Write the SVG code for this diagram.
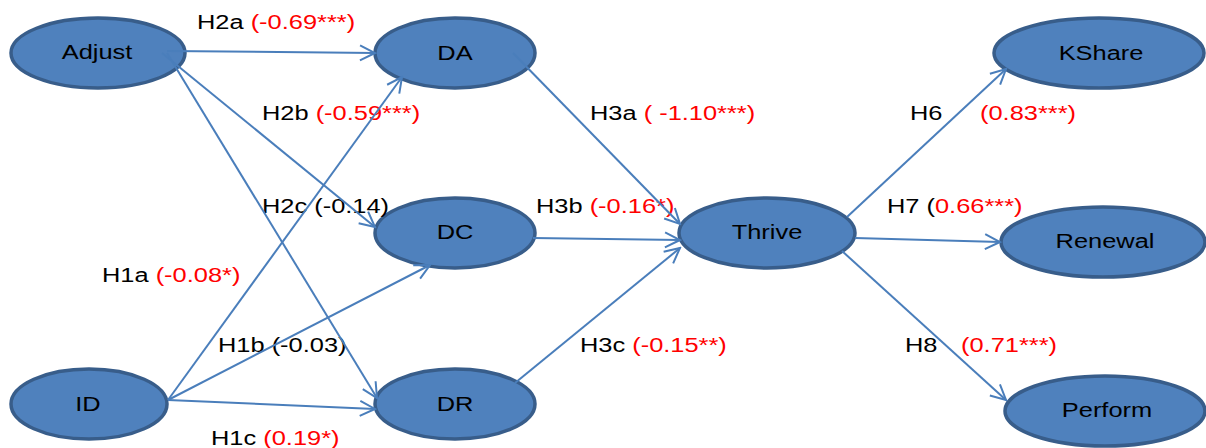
<svg xmlns="http://www.w3.org/2000/svg" width="1206" height="448" viewBox="0 0 1206 448">
  <style>
    .node ellipse { fill: #4F81BD; stroke: #385D8A; stroke-width: 3.5; }
    .node text { font-family: "Liberation Sans", Arial, sans-serif; font-size: 20px; fill: #000; text-anchor: middle; }
    .lbl { font-family: "Liberation Sans", Arial, sans-serif; font-size: 20px; fill: #000; }
    .sig { fill: #FF0000; }
    .edge { stroke: #4A7EBB; stroke-width: 2; fill: none; marker-end: url(#arrow); }
  </style>
  <defs>
    <marker id="arrow" viewBox="0 0 18 18" refX="16" refY="9" markerWidth="18" markerHeight="18" markerUnits="userSpaceOnUse" orient="auto">
      <path d="M1,1.5 L16,9 L1,16.5" fill="none" stroke="#4A7EBB" stroke-width="2"/>
    </marker>
  </defs>

  <rect width="1206" height="448" fill="#fff"/>

  <!-- latent constructs -->
  <g id="node-adjust" class="node">
    <ellipse cx="98" cy="53" rx="87" ry="35"/>
    <text transform="translate(97,59) scale(1.27,1)">Adjust</text>
  </g>
  <g id="node-id" class="node">
    <ellipse cx="89" cy="404" rx="78" ry="35"/>
    <text transform="translate(88,411) scale(1.27,1)">ID</text>
  </g>
  <g id="node-da" class="node">
    <ellipse cx="455" cy="53" rx="80" ry="35"/>
    <text transform="translate(455,60) scale(1.27,1)">DA</text>
  </g>
  <g id="node-dc" class="node">
    <ellipse cx="455" cy="233" rx="80" ry="35"/>
    <text transform="translate(455,239) scale(1.27,1)">DC</text>
  </g>
  <g id="node-dr" class="node">
    <ellipse cx="455" cy="404" rx="80" ry="35"/>
    <text transform="translate(455,411) scale(1.27,1)">DR</text>
  </g>
  <g id="node-thrive" class="node">
    <ellipse cx="767" cy="233" rx="88" ry="35"/>
    <text transform="translate(767,239) scale(1.27,1)">Thrive</text>
  </g>
  <g id="node-kshare" class="node">
    <ellipse cx="1099" cy="53" rx="105" ry="35"/>
    <text transform="translate(1101,60) scale(1.27,1)">KShare</text>
  </g>
  <g id="node-renewal" class="node">
    <ellipse cx="1103" cy="242" rx="102" ry="35"/>
    <text transform="translate(1105,248) scale(1.27,1)">Renewal</text>
  </g>
  <g id="node-perform" class="node">
    <ellipse cx="1105" cy="411" rx="100" ry="35"/>
    <text transform="translate(1107,417) scale(1.27,1)">Perform</text>
  </g>

  <!-- path coefficients -->
  <g id="labels" class="lbl">
    <text transform="translate(197,29) scale(1.27,1)">H2a <tspan class="sig">(-0.69***)</tspan></text>
    <text transform="translate(262,120) scale(1.27,1)">H2b <tspan class="sig">(-0.59***)</tspan></text>
    <text transform="translate(590,120) scale(1.27,1)">H3a <tspan class="sig">( -1.10***)</tspan></text>
    <text transform="translate(262,213) scale(1.27,1)">H2c (-0.14)</text>
    <text transform="translate(102,282) scale(1.27,1)">H1a <tspan class="sig">(-0.08*)</tspan></text>
    <text transform="translate(218,352) scale(1.27,1)">H1b (-0.03)</text>
    <text transform="translate(211,445) scale(1.27,1)">H1c <tspan class="sig">(0.19*)</tspan></text>
    <text transform="translate(536,213) scale(1.27,1)">H3b <tspan class="sig">(-0.16*)</tspan></text>
    <text transform="translate(580,352) scale(1.27,1)">H3c <tspan class="sig">(-0.15**)</tspan></text>
    <text transform="translate(910,120) scale(1.27,1)">H6</text>
    <text class="sig" transform="translate(980,120) scale(1.27,1)">(0.83***)</text>
    <text transform="translate(887,213) scale(1.27,1)">H7 (<tspan class="sig">0.66***)</tspan></text>
    <text transform="translate(905,352) scale(1.27,1)">H8</text>
    <text class="sig" transform="translate(961,352) scale(1.27,1)">(0.71***)</text>
  </g>

  <!-- structural paths -->
  <g id="connectors">
    <line class="edge" x1="167" y1="51" x2="375" y2="53"/>
    <line class="edge" x1="162" y1="53" x2="375" y2="227"/>
    <line class="edge" x1="167" y1="53" x2="377" y2="398"/>
    <line class="edge" x1="168" y1="400" x2="402" y2="77"/>
    <line class="edge" x1="168" y1="400" x2="430" y2="265"/>
    <line class="edge" x1="168" y1="400" x2="375" y2="409"/>
    <line class="edge" x1="513" y1="53" x2="680" y2="224"/>
    <line class="edge" x1="533" y1="238" x2="680" y2="240"/>
    <line class="edge" x1="515" y1="383" x2="680" y2="248"/>
    <line class="edge" x1="847" y1="217" x2="1006" y2="69"/>
    <line class="edge" x1="855" y1="238" x2="1000" y2="242"/>
    <line class="edge" x1="842" y1="251" x2="1006" y2="400"/>
  </g>
</svg>
